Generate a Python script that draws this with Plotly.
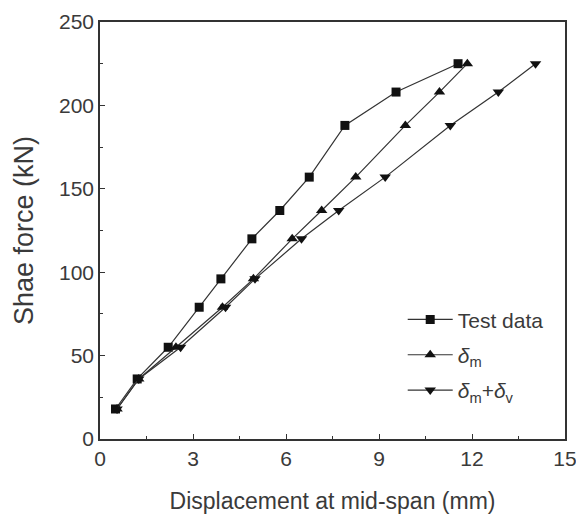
import plotly.graph_objects as go

# Test data (squares)
test_x = [0.5, 1.2, 2.2, 3.2, 3.9, 4.9, 5.8, 6.75, 7.9, 9.55, 11.55]
test_y = [18, 36, 55, 79, 96, 120, 137, 157, 188, 208, 225]

# delta_m (up triangles)
dm_x = [0.55, 1.25, 2.45, 3.95, 4.95, 6.2, 7.15, 8.25, 9.85, 10.95, 11.85]
dm_y = [18, 36, 55, 79, 96, 120, 137, 157, 188, 208, 225]

# delta_m + delta_v (down triangles)
dmv_x = [0.55, 1.25, 2.6, 4.05, 5.0, 6.5, 7.7, 9.2, 11.3, 12.85, 14.05]
dmv_y = [18, 36, 55, 79, 96, 120, 137, 157, 188, 208, 225]

x_ticks = [0, 3, 6, 9, 12, 15]
y_ticks = [0, 50, 100, 150, 200, 250]

FONT = "Liberation Sans, Arial, sans-serif"
TXT = "#3a3a3a"

fig = go.Figure()
line_style = dict(color="#333333", width=1.2)
fig.add_trace(go.Scatter(x=test_x, y=test_y, mode="lines+markers", name="Test data",
                         legendgroup="a", line=line_style,
                         marker=dict(symbol="square", size=9, color="#111111")))
fig.add_trace(go.Scatter(x=dm_x, y=dm_y, mode="lines+markers", name="<i>δ</i><sub>m</sub>",
                         legendgroup="b", line=line_style,
                         marker=dict(symbol="triangle-up", size=10, color="#111111")))
fig.add_trace(go.Scatter(x=dmv_x, y=dmv_y, mode="lines+markers",
                         name="<i>δ</i><sub>m</sub>+<i>δ</i><sub>v</sub>",
                         legendgroup="c", line=line_style,
                         marker=dict(symbol="triangle-down", size=10, color="#111111")))

axis_common = dict(showline=True, linecolor="#333333", linewidth=1.6, mirror=True,
                   showgrid=False, zeroline=False, ticks="inside", ticklen=5,
                   tickwidth=1.3, tickcolor="#333333", automargin=False,
                   ticklabeloverflow="allow",
                   tickfont=dict(family=FONT, size=21, color=TXT))

fig.update_layout(
    width=576, height=524,
    margin=dict(l=100, r=11, t=22, b=85),
    paper_bgcolor="white", plot_bgcolor="white",
    showlegend=True,
    legend=dict(x=0.651, y=0.335, xanchor="left", yanchor="top",
                font=dict(family=FONT, size=21, color=TXT),
                bgcolor="rgba(0,0,0,0)", tracegroupgap=5, itemwidth=45),
    xaxis=dict(range=[0, 15], tickvals=x_ticks, ticktext=[str(v) for v in x_ticks],
               minor=dict(dtick=1.5, ticks="inside", ticklen=3, tickcolor="#333333"),
               title=dict(text="Displacement at mid-span (mm)",
                          font=dict(family=FONT, size=23, color=TXT), standoff=24),
               **axis_common),
    yaxis=dict(range=[0, 250], tickvals=y_ticks, ticktext=[str(v) for v in y_ticks],
               minor=dict(dtick=25, ticks="inside", ticklen=3, tickcolor="#333333"),
               title=dict(text="Shae force (kN)",
                          font=dict(family=FONT, size=27, color=TXT), standoff=18),
               **axis_common),
)

fig.write_html("out.html")
